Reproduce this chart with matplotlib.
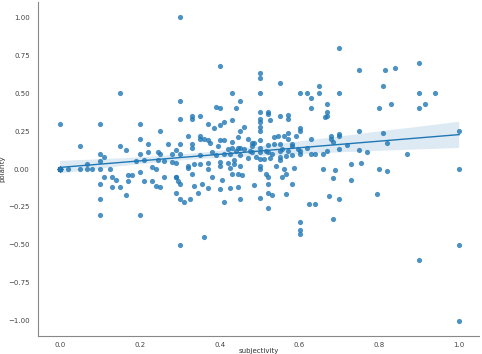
import matplotlib
matplotlib.use('Agg')
import matplotlib.pyplot as plt
import seaborn as sns
import pandas as pd

# Werte (subjectivity, polarity)
subjectivity = [
    0.00, 0.00, 0.02, 0.05, 0.067, 0.08, 0.10, 0.125, 0.05, 0.067,
    0.10, 0.10, 0.11, 0.10, 0.10, 0.10, 0.10, 0.11, 0.13, 0.13,
    0.14, 0.15, 0.15, 0.15, 0.165, 0.17, 0.18, 0.17, 0.165, 0.19,
    0.20, 0.20, 0.20, 0.20, 0.20, 0.21, 0.21, 0.22, 0.22, 0.23,
    0.23, 0.24, 0.245, 0.25, 0.25, 0.24, 0.245, 0.26, 0.26, 0.25,
    0.27, 0.28, 0.29, 0.28, 0.29, 0.30, 0.30, 0.30, 0.30, 0.30,
    0.29, 0.29, 0.295, 0.30, 0.29, 0.30, 0.31, 0.325, 0.30, 0.32,
    0.33, 0.33, 0.33, 0.32, 0.32, 0.33, 0.335, 0.335, 0.345, 0.35,
    0.35, 0.36, 0.35, 0.35, 0.355, 0.37, 0.38, 0.36, 0.37, 0.375,
    0.37, 0.37, 0.385, 0.38, 0.39, 0.395, 0.40, 0.40, 0.40, 0.40,
    0.40, 0.40, 0.40, 0.405, 0.41, 0.41, 0.41, 0.425, 0.425, 0.425,
    0.43, 0.43, 0.43, 0.435, 0.435, 0.43, 0.445, 0.44, 0.45, 0.45,
    0.45, 0.45, 0.45, 0.445, 0.455, 0.445, 0.45, 0.46, 0.47, 0.48,
    0.48, 0.485, 0.485, 0.50, 0.50, 0.50, 0.50, 0.50, 0.50, 0.50,
    0.50, 0.50, 0.50, 0.50, 0.50, 0.50, 0.50, 0.51, 0.515, 0.515,
    0.52, 0.52, 0.525, 0.52, 0.52, 0.52, 0.53, 0.52, 0.535, 0.535,
    0.55, 0.54, 0.545, 0.55, 0.55, 0.55, 0.555, 0.555, 0.56, 0.56,
    0.565, 0.565, 0.565, 0.57, 0.57, 0.57, 0.58, 0.585, 0.58, 0.59,
    0.60, 0.60, 0.60, 0.60, 0.60, 0.60, 0.60, 0.62, 0.63, 0.63,
    0.63, 0.62, 0.63, 0.625, 0.64, 0.65, 0.65, 0.64, 0.66, 0.66,
    0.665, 0.67, 0.67, 0.67, 0.67, 0.68, 0.685, 0.685, 0.685, 0.675,
    0.70, 0.70, 0.70, 0.70, 0.69, 0.70, 0.72, 0.73, 0.73, 0.75,
    0.75, 0.75, 0.755, 0.77, 0.795, 0.80, 0.80, 0.81, 0.81, 0.815,
    0.82, 0.82, 0.83, 0.84, 0.87, 0.90, 0.90, 0.90, 0.90, 0.915,
    0.94, 1.00, 1.00, 1.00, 1.00,
    0.33, 0.35, 0.37, 0.41, 0.42, 0.43, 0.445, 0.46, 0.475, 0.48,
    0.50, 0.52, 0.55, 0.57, 0.57, 0.52, 0.58, 0.595, 0.60, 0.68,
    0.70, 0.53, 0.55, 0.58, 0.525, 0.42, 0.44, 0.47, 0.49, 0.39,
]
polarity = [
    0.30, 0.00, 0.00, 0.00, 0.00, 0.00, 0.00, 0.00, 0.15, 0.033,
    0.30, 0.10, 0.08, 0.05, -0.10, -0.20, -0.30, -0.05, -0.05, -0.12,
    -0.07, -0.12, 0.50, 0.15, 0.125, -0.04, -0.04, -0.08, -0.17, 0.05,
    0.30, 0.20, 0.10, -0.02, -0.30, 0.06, -0.08, 0.165, 0.11, 0.015,
    -0.08, -0.11, 0.11, 0.25, -0.12, 0.00, 0.06, 0.05, -0.05, 0.10,
    0.165, 0.045, 0.125, 0.10, 0.04, 1.00, 0.45, 0.33, 0.165, 0.10,
    -0.05, -0.055, -0.08, -0.10, -0.16, -0.20, -0.22, -0.20, -0.50, 0.22,
    0.33, 0.165, 0.14, 0.02, 0.01, -0.03, 0.03, -0.11, -0.16, 0.35,
    0.20, 0.20, 0.09, 0.03, -0.10, -0.125, -0.05, -0.45, 0.30, 0.17,
    0.04, 0.00, 0.27, 0.11, 0.41, 0.15, 0.68, 0.40, 0.29, 0.19,
    0.045, 0.02, -0.13, -0.07, -0.22, 0.31, 0.10, 0.10, 0.01, -0.125,
    0.50, 0.32, 0.14, 0.03, 0.06, -0.03, 0.21, 0.40, 0.45, 0.25,
    0.14, 0.09, 0.02, -0.03, -0.04, -0.12, -0.20, 0.28, 0.20, 0.17,
    0.11, 0.17, -0.105, 0.63, 0.60, 0.50, 0.375, 0.33, 0.31, 0.28,
    0.25, 0.19, 0.14, 0.11, 0.065, 0.00, -0.19, 0.065, 0.12, -0.03,
    0.375, 0.36, 0.32, -0.05, -0.10, -0.16, -0.17, -0.26, 0.21, 0.165,
    0.165, 0.02, 0.22, 0.57, 0.35, 0.08, 0.13, -0.05, 0.00, 0.22,
    -0.03, 0.085, -0.165, 0.355, 0.33, 0.24, 0.165, 0.01, -0.10, 0.22,
    0.50, 0.27, 0.25, 0.10, -0.35, -0.40, -0.43, 0.50, 0.47, 0.40,
    0.20, 0.14, 0.10, -0.23, -0.23, 0.55, 0.50, 0.10, 0.10, 0.00,
    0.34, 0.35, 0.43, 0.375, 0.12, 0.22, 0.18, -0.06, -0.33, -0.18,
    0.80, 0.50, 0.23, 0.215, -0.005, -0.20, 0.16, 0.03, -0.07, 0.65,
    0.25, 0.125, 0.04, 0.11, -0.165, 0.40, 0.00, 0.55, 0.24, 0.65,
    0.17, -0.01, 0.43, 0.665, 0.10, 0.70, 0.50, 0.40, -0.60, 0.43,
    0.50, 0.25, 0.00, -0.50, -1.00,
    0.35, 0.22, 0.19, 0.19, 0.13, 0.18, 0.14, 0.13, 0.12, 0.15,
    0.02, 0.11, 0.12, 0.20, 0.12, 0.16, 0.15, 0.13, 0.12, 0.20,
    0.13, 0.10, 0.06, 0.09, 0.07, 0.04, 0.12, 0.07, 0.08, 0.09,
]

# viele Texte liegen genau auf (0, 0) und überdecken sich im Bild
neutral_anzahl = 40
subjectivity = subjectivity + [0.0] * neutral_anzahl
polarity = polarity + [0.0] * neutral_anzahl

df = pd.DataFrame({'subjectivity': subjectivity, 'polarity': polarity})

fig = plt.figure(figsize=(4.82, 3.54), dpi=100)
ax = fig.add_axes([0.079, 0.051, 0.915, 0.943])

sns.regplot(data=df, x='subjectivity', y='polarity', ax=ax, color='#1f77b4',
            scatter_kws={'s': 14, 'alpha': 0.8, 'linewidths': 0},
            line_kws={'linewidth': 1.0}, seed=0)

ax.set_xlim(-0.055, 1.05)
ax.set_ylim(-1.1, 1.1)
ax.set_xticks([0.0, 0.2, 0.4, 0.6, 0.8, 1.0])
ax.set_yticks([-1.0, -0.75, -0.5, -0.25, 0.0, 0.25, 0.5, 0.75, 1.0])
ax.set_yticklabels(['\u22121.00', '\u22120.75', '\u22120.50', '\u22120.25',
                    '0.00', '0.25', '0.50', '0.75', '1.00'])
ax.tick_params(axis='x', labelsize=5, length=0, pad=4, colors='#444444')
ax.tick_params(axis='y', labelsize=5, length=0, pad=6, colors='#444444')
ax.set_xlabel('subjectivity', fontsize=5, labelpad=0, color='#333333')
ax.set_ylabel('polarity', fontsize=5, labelpad=2, color='#333333')

for side in ['top', 'right']:
    ax.spines[side].set_visible(False)
for side in ['left', 'bottom']:
    ax.spines[side].set_color('#888888')
    ax.spines[side].set_linewidth(0.8)

fig.savefig('out.png', dpi=100)
